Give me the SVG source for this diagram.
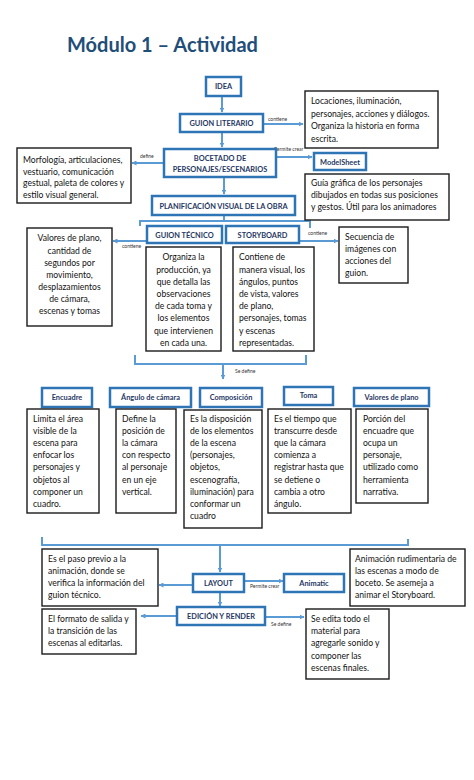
<svg xmlns="http://www.w3.org/2000/svg" width="474" height="780" viewBox="0 0 474 780">
<style>
.bb{fill:#fff;stroke:#2E75B6;stroke-width:2.5}
.kb{fill:#fff;stroke:#1a1a1a;stroke-width:1.4}
.bt{font-family:Lato,"Open Sans","Liberation Sans",sans-serif;font-weight:700;font-size:7.4px;fill:#1F3864;text-anchor:middle}
.kt{font-family:Lato,"Open Sans","Liberation Sans",sans-serif;font-size:8.6px;fill:#111}
.ktc{font-family:Lato,"Open Sans","Liberation Sans",sans-serif;font-size:8.6px;fill:#111;text-anchor:middle}
.lbl{font-family:Lato,"Liberation Sans",sans-serif;font-size:5px;fill:#333}
.c{stroke:#5B9BD5;stroke-width:2;fill:none}
.title{font-family:Lato,"Open Sans","Liberation Sans",sans-serif;font-weight:700;font-size:20px;fill:#1F4E79}
</style>
<defs>
<marker id="ah" viewBox="0 0 10 10" refX="9" refY="5" markerWidth="5" markerHeight="5" markerUnits="userSpaceOnUse" orient="auto">
<path d="M0,0 L10,5 L0,10 z" fill="#5B9BD5"/>
</marker>
</defs>
<rect width="474" height="780" fill="#fff"/>
<text class="title" x="67" y="52">Módulo 1 – Actividad</text>

<g id="connectors">
<path class="c" d="M222,96 V112" marker-end="url(#ah)"/>
<path class="c" d="M263,124 H303" marker-end="url(#ah)"/>
<text class="lbl" x="268" y="121">contiene</text>
<path class="c" d="M222,132 V147" marker-end="url(#ah)"/>
<path class="c" d="M164,163 H132" marker-end="url(#ah)"/>
<text class="lbl" x="140" y="158">define</text>
<path class="c" d="M276,157 H312" marker-end="url(#ah)"/>
<text class="lbl" x="274" y="151">Permite crear</text>
<path class="c" d="M224,177 V194" marker-end="url(#ah)"/>
<path class="c" d="M224,215 V221 M140,226 V221 H310 V228"/>
<path class="c" d="M147,241 H113" marker-end="url(#ah)"/>
<text class="lbl" x="122" y="248">contiene</text>
<path class="c" d="M299,241 H338" marker-end="url(#ah)"/>
<text class="lbl" x="308" y="235">contiene</text>
<path class="c" d="M135,355 V364 H306 V355"/>
<path class="c" d="M223,364 V379" marker-end="url(#ah)"/>
<text class="lbl" x="235" y="373">Se define</text>
<path class="c" d="M42,537 V545 H408 V539"/>
<path class="c" d="M220,545 V572" marker-end="url(#ah)"/>
<path class="c" d="M193,585 H159" marker-end="url(#ah)"/>
<path class="c" d="M244,581 H283" marker-end="url(#ah)"/>
<text class="lbl" x="250" y="588">Permite crear</text>
<path class="c" d="M220,592 V606" marker-end="url(#ah)"/>
<path class="c" d="M177,616 H141" marker-end="url(#ah)"/>
<path class="c" d="M265,617 H304" marker-end="url(#ah)"/>
<text class="lbl" x="271" y="626">Se define</text>
</g>

<g id="idea"><rect class="bb" x="206" y="77" width="35" height="19"/><text class="bt" x="223.5" y="89">IDEA</text></g>
<g id="guion-literario"><rect class="bb" x="180" y="114" width="83" height="18"/><text class="bt" x="221.5" y="125.5">GUION LITERARIO</text></g>
<g id="locaciones"><rect class="kb" x="305" y="91" width="133" height="57"/>
<text class="kt"><tspan x="311" y="104">Locaciones, iluminación,</tspan><tspan x="311" y="116.5">personajes, acciones y diálogos.</tspan><tspan x="311" y="129">Organiza la historia en forma</tspan><tspan x="311" y="141.5">escrita.</tspan></text></g>
<g id="bocetado"><rect class="bb" x="164" y="149" width="112" height="28"/><text class="bt"><tspan x="220" y="161">BOCETADO DE</tspan><tspan x="220" y="172">PERSONAJES/ESCENARIOS</tspan></text></g>
<g id="morfologia"><rect class="kb" x="17" y="148" width="114" height="55"/>
<text class="kt"><tspan x="23" y="163">Morfología, articulaciones,</tspan><tspan x="23" y="174.5">vestuario, comunicación</tspan><tspan x="23" y="186">gestual, paleta de colores y</tspan><tspan x="23" y="197.5">estilo visual general.</tspan></text></g>
<g id="modelsheet"><rect class="bb" x="314" y="153" width="52" height="17"/><text class="bt" x="340" y="164.5">ModelSheet</text></g>
<g id="guia"><rect class="kb" x="305" y="174" width="144" height="46"/>
<text class="kt"><tspan x="311" y="186">Guía gráfica de los personajes</tspan><tspan x="311" y="198">dibujados en todas sus posiciones</tspan><tspan x="311" y="210">y gestos. Útil para los animadores</tspan></text></g>
<g id="planificacion"><rect class="bb" x="152" y="196" width="143" height="19"/><text class="bt" x="223.5" y="208.5">PLANIFICACIÓN VISUAL DE LA OBRA</text></g>
<g id="guion-tecnico"><rect class="bb" x="147" y="226" width="75" height="17"/><text class="bt" x="184.5" y="237.5">GUION TÉCNICO</text></g>
<g id="storyboard"><rect class="bb" x="226" y="226" width="73" height="17"/><text class="bt" x="262.5" y="237.5">STORYBOARD</text></g>
<g id="valores-gt"><rect class="kb" x="27" y="228" width="85" height="98"/>
<text class="ktc"><tspan x="69.5" y="241">Valores de plano,</tspan><tspan x="69.5" y="253.5">cantidad de</tspan><tspan x="69.5" y="265.5">segundos por</tspan><tspan x="69.5" y="277.5">movimiento,</tspan><tspan x="69.5" y="290">desplazamientos</tspan><tspan x="69.5" y="302">de cámara,</tspan><tspan x="69.5" y="314">escenas y tomas</tspan></text></g>
<g id="organiza"><rect class="kb" x="146" y="247" width="75" height="104"/>
<text class="ktc"><tspan x="183.5" y="260">Organiza la</tspan><tspan x="183.5" y="272.5">producción, ya</tspan><tspan x="183.5" y="284.5">que detalla las</tspan><tspan x="183.5" y="297">observaciones</tspan><tspan x="183.5" y="309">de cada toma y</tspan><tspan x="183.5" y="321">los elementos</tspan><tspan x="183.5" y="333.5">que intervienen</tspan><tspan x="183.5" y="345.5">en cada una.</tspan></text></g>
<g id="contiene-sb"><rect class="kb" x="233" y="247" width="81" height="104"/>
<text class="kt"><tspan x="239" y="260">Contiene de</tspan><tspan x="239" y="272.5">manera visual, los</tspan><tspan x="239" y="284.5">ángulos, puntos</tspan><tspan x="239" y="297">de vista, valores</tspan><tspan x="239" y="309">de plano,</tspan><tspan x="239" y="321">personajes, tomas</tspan><tspan x="239" y="333.5">y escenas</tspan><tspan x="239" y="345.5">representadas.</tspan></text></g>
<g id="secuencia"><rect class="kb" x="339" y="227" width="69" height="56"/>
<text class="kt"><tspan x="345" y="239.5">Secuencia de</tspan><tspan x="345" y="251.5">imágenes con</tspan><tspan x="345" y="263.5">acciones del</tspan><tspan x="345" y="276">guion.</tspan></text></g>

<g id="encuadre"><rect class="bb" x="42" y="388" width="50" height="19"/><text class="bt" x="67" y="399.5">Encuadre</text></g>
<g id="angulo"><rect class="bb" x="110" y="388" width="81" height="19"/><text class="bt" x="150.5" y="399.5">Ángulo de cámara</text></g>
<g id="composicion"><rect class="bb" x="200" y="388" width="62" height="19"/><text class="bt" x="231" y="399.5">Composición</text></g>
<g id="toma"><rect class="bb" x="284" y="387" width="49" height="18"/><text class="bt" x="308.5" y="398">Toma</text></g>
<g id="valores-plano"><rect class="bb" x="354" y="388" width="75" height="18"/><text class="bt" x="391.5" y="399.5">Valores de plano</text></g>

<g id="encuadre-desc"><rect class="kb" x="27" y="409" width="72" height="104"/>
<text class="kt"><tspan x="33" y="421.5">Limita el área</tspan><tspan x="33" y="433.5">visible de la</tspan><tspan x="33" y="446">escena para</tspan><tspan x="33" y="458">enfocar los</tspan><tspan x="33" y="470">personajes y</tspan><tspan x="33" y="482.5">objetos al</tspan><tspan x="33" y="494.5">componer un</tspan><tspan x="33" y="507">cuadro.</tspan></text></g>
<g id="angulo-desc"><rect class="kb" x="116" y="409" width="60" height="104"/>
<text class="kt"><tspan x="122" y="421.5">Define la</tspan><tspan x="122" y="433.5">posición de</tspan><tspan x="122" y="446">la cámara</tspan><tspan x="122" y="458">con respecto</tspan><tspan x="122" y="470">al personaje</tspan><tspan x="122" y="482.5">en un eje</tspan><tspan x="122" y="494.5">vertical.</tspan></text></g>
<g id="composicion-desc"><rect class="kb" x="184" y="410" width="78" height="118"/>
<text class="kt"><tspan x="190" y="421.5">Es la disposición</tspan><tspan x="190" y="433.5">de los elementos</tspan><tspan x="190" y="446">de la escena</tspan><tspan x="190" y="458">(personajes,</tspan><tspan x="190" y="470">objetos,</tspan><tspan x="190" y="482.5">escenografía,</tspan><tspan x="190" y="494.5">iluminación) para</tspan><tspan x="190" y="507">conformar un</tspan><tspan x="190" y="519">cuadro</tspan></text></g>
<g id="toma-desc"><rect class="kb" x="268" y="409" width="83" height="104"/>
<text class="kt"><tspan x="274" y="421.5">Es el tiempo que</tspan><tspan x="274" y="433.5">transcurre desde</tspan><tspan x="274" y="446">que la cámara</tspan><tspan x="274" y="458">comienza a</tspan><tspan x="274" y="470">registrar hasta que</tspan><tspan x="274" y="482.5">se detiene o</tspan><tspan x="274" y="494.5">cambia a otro</tspan><tspan x="274" y="507">ángulo.</tspan></text></g>
<g id="valores-desc"><rect class="kb" x="356" y="409" width="72" height="94"/>
<text class="kt"><tspan x="363" y="421.5">Porción del</tspan><tspan x="363" y="433.5">encuadre que</tspan><tspan x="363" y="446">ocupa un</tspan><tspan x="363" y="458">personaje,</tspan><tspan x="363" y="470">utilizado como</tspan><tspan x="363" y="482.5">herramienta</tspan><tspan x="363" y="494.5">narrativa.</tspan></text></g>

<g id="paso"><rect class="kb" x="42" y="549" width="116" height="57"/>
<text class="kt"><tspan x="48" y="561.5">Es el paso previo a la</tspan><tspan x="48" y="573.5">animación, donde se</tspan><tspan x="48" y="585.5">verifica la información del</tspan><tspan x="48" y="598">guion técnico.</tspan></text></g>
<g id="layout"><rect class="bb" x="193" y="574" width="51" height="18"/><text class="bt" x="218.5" y="585.5">LAYOUT</text></g>
<g id="animatic"><rect class="bb" x="284" y="574" width="60" height="18"/><text class="bt" x="314" y="585.5">Animatic</text></g>
<g id="animatic-desc"><rect class="kb" x="350" y="549" width="115" height="57"/>
<text class="kt"><tspan x="355" y="561.5">Animación rudimentaria de</tspan><tspan x="355" y="573.5">las escenas a modo de</tspan><tspan x="355" y="585.5">boceto. Se asemeja a</tspan><tspan x="355" y="598">animar el Storyboard.</tspan></text></g>
<g id="edicion"><rect class="bb" x="177" y="607" width="88" height="18"/><text class="bt" x="221" y="618.5">EDICIÓN Y RENDER</text></g>
<g id="formato"><rect class="kb" x="42" y="609" width="94" height="45"/>
<text class="kt"><tspan x="48" y="621.5">El formato de salida y</tspan><tspan x="48" y="633.5">la transición de las</tspan><tspan x="48" y="646">escenas al editarlas.</tspan></text></g>
<g id="se-edita"><rect class="kb" x="306" y="609" width="83" height="70"/>
<text class="kt"><tspan x="311" y="621.5">Se edita todo el</tspan><tspan x="311" y="634">material para</tspan><tspan x="311" y="646">agregarle sonido y</tspan><tspan x="311" y="658.5">componer las</tspan><tspan x="311" y="671">escenas finales.</tspan></text></g>
</svg>
